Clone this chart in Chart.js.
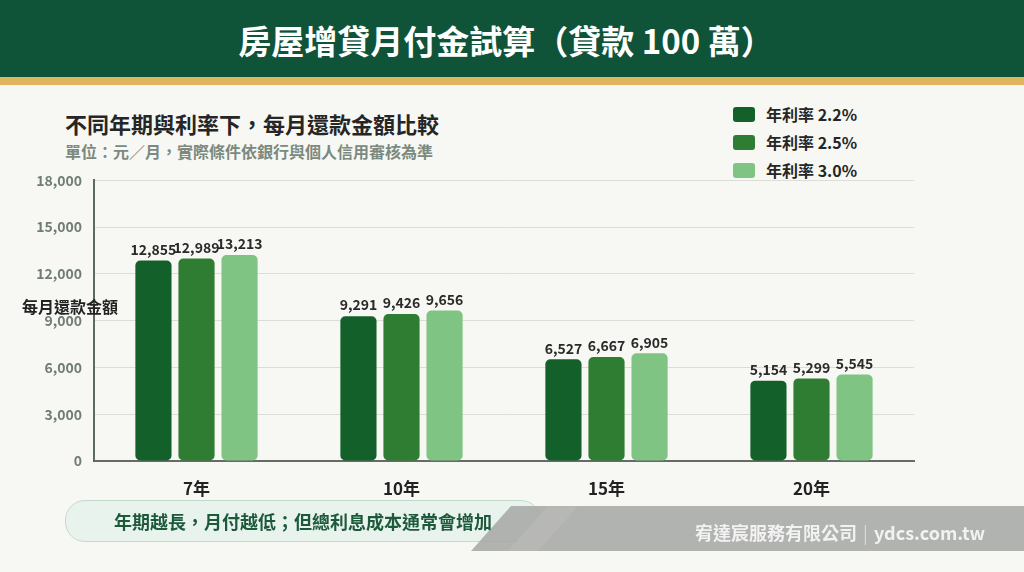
<!DOCTYPE html>
<html><head><meta charset="utf-8">
<script src="https://cdn.jsdelivr.net/npm/chart.js@4.4.1/dist/chart.umd.min.js"></script>
<style>
html,body{margin:0;padding:0;}
body{width:1024px;height:572px;background:#f7f8f4;position:relative;overflow:hidden;font-family:"Noto Sans CJK TC","Noto Sans",sans-serif;}
#hdr{position:absolute;left:0;top:0;width:1024px;height:77px;background:#0f5338;color:#fff;font-weight:700;font-size:33px;text-align:center;line-height:80px;padding-right:12px;box-sizing:border-box;}
#gold{position:absolute;left:0;top:77px;width:1024px;height:8px;background:#dfb562;}
#sub1{position:absolute;left:65px;top:108px;font-size:22px;font-weight:700;color:#262626;line-height:30px;}
#sub2{position:absolute;left:65px;top:140px;font-size:16px;font-weight:700;color:#7b8a80;line-height:22px;}
#ytitle{position:absolute;left:22px;top:294px;font-size:16px;font-weight:700;color:#222;line-height:24px;z-index:3;}
#legend{position:absolute;left:733px;top:100px;}
.li{height:28px;display:flex;align-items:center;font-size:16px;font-weight:700;color:#262626;}
.sw{width:22px;height:15px;border-radius:3px;margin-right:11px;}
#wrap{position:absolute;left:0;top:160px;width:1024px;height:345px;}
#pill{position:absolute;left:65px;top:500px;width:474px;height:40px;border:1px solid #c3d9cc;border-radius:20px;background:#e9f3ee;}
#pilltxt{position:absolute;left:65px;top:500px;width:476px;height:42px;line-height:42px;text-align:center;font-size:18px;font-weight:700;color:#1d5a3b;z-index:4;}
#band{position:absolute;left:0;top:0;width:1024px;height:572px;z-index:3;pointer-events:none;}
#foot{position:absolute;left:695px;top:517px;font-size:18px;font-weight:700;color:#f2f2f2;line-height:30px;z-index:5;}
#foot span{color:#d8d8d8;font-weight:400;margin:0 6px;}
</style></head>
<body>
<div id="hdr">房屋增貸月付金試算（貸款 100 萬）</div>
<div id="gold"></div>
<div id="sub1">不同年期與利率下，每月還款金額比較</div>
<div id="sub2">單位：元／月，實際條件依銀行與個人信用審核為準</div>
<div id="legend"></div>
<div id="ytitle">每月還款金額</div>
<div id="wrap"><canvas id="c" width="1024" height="345"></canvas></div>
<div id="pill"></div>
<svg id="band" width="1024" height="572">
  <polygon points="511,506 1024,506 1024,551 471,551" fill="#a6a8a5" fill-opacity="0.88"/>
  <polygon points="548,506 578,506 538,551 508,551" fill="#bcbdba" fill-opacity="0.6"/>
</svg>
<div id="pilltxt">年期越長，月付越低；但總利息成本通常會增加</div>
<div id="foot">宥達宸服務有限公司<span>|</span>ydcs.com.tw</div>
<script>
const categories = ["7年", "10年", "15年", "20年"];
const seriesNames = ["年利率 2.2%", "年利率 2.5%", "年利率 3.0%"];
const rate22 = [12855, 9291, 6527, 5154];
const rate25 = [12989, 9426, 6667, 5299];
const rate30 = [13213, 9656, 6905, 5545];
const yTicks = [0, 3000, 6000, 9000, 12000, 15000, 18000];
const colors = ["#14602a", "#2e7d32", "#80c483"];

const seriesValues = [rate22, rate25, rate30];
const lg = document.getElementById('legend');
seriesNames.forEach((n, i) => {
  const d = document.createElement('div'); d.className = 'li';
  d.innerHTML = '<div class="sw" style="background:' + colors[i] + '"></div>' + n;
  lg.appendChild(d);
});

const valueLabels = {
  id: 'valueLabels',
  afterDatasetsDraw(chart) {
    const ctx = chart.ctx;
    ctx.save();
    ctx.font = '700 14px "Noto Sans CJK TC", "Noto Sans", sans-serif';
    ctx.fillStyle = '#2a2a2a';
    ctx.textAlign = 'center';
    ctx.textBaseline = 'bottom';
    chart.data.datasets.forEach((ds, di) => {
      chart.getDatasetMeta(di).data.forEach((bar, i) => {
        ctx.fillText(ds.data[i].toLocaleString('en-US'), bar.x, bar.y - 4);
      });
    });
    ctx.restore();
  }
};

new Chart(document.getElementById('c'), {
  type: 'bar',
  data: {
    labels: categories,
    datasets: seriesValues.map((v, i) => ({
      label: seriesNames[i], data: v, backgroundColor: colors[i],
      borderRadius: 5, borderSkipped: false,
      categoryPercentage: 0.63, barPercentage: 0.84
    }))
  },
  options: {
    responsive: false, animation: false,
    layout: { padding: { top: 20, right: 110, bottom: 0, left: 0 } },
    plugins: { legend: { display: false }, tooltip: { enabled: false } },
    scales: {
      x: {
        grid: { display: false },
        border: { display: true, color: '#666b66', width: 2 },
        ticks: { color: '#222', font: { size: 17, weight: '700', family: '"Noto Sans CJK TC", "Noto Sans", sans-serif' }, padding: 9 },
        afterFit(s) { s.height = 44; }
      },
      y: {
        min: 0, max: 18000,
        afterBuildTicks(s) { s.ticks = yTicks.map(v => ({ value: v })); },
        grid: { color: '#dcddd9', lineWidth: 1, drawTicks: false },
        border: { display: true, color: '#5c6b61', width: 2 },
        ticks: {
          color: '#6f7d73', padding: 12,
          font: { size: 14, weight: '700', family: '"Noto Sans CJK TC", "Noto Sans", sans-serif' },
          callback: v => v.toLocaleString('en-US')
        },
        afterFit(s) { s.width = 94; }
      }
    }
  },
  plugins: [valueLabels]
});
</script>
</body></html>
